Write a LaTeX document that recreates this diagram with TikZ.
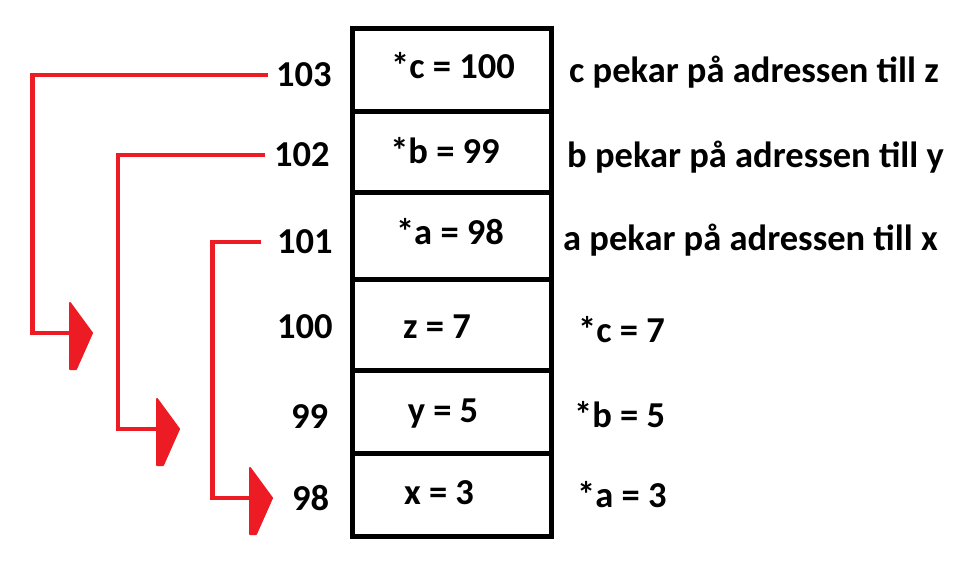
\documentclass[tikz,border=0pt]{standalone}
\usepackage{fontspec}
\setmainfont{Carlito}
\definecolor{pred}{RGB}{237,28,36}
\begin{document}
\begin{tikzpicture}[x=1pt,y=-1pt,
  lbl/.style={font=\bfseries\fontsize{36.5}{44}\selectfont, inner sep=0pt, text=black},
  num/.style={lbl, anchor=base west},
  note/.style={lbl, anchor=base west},
  val/.style={lbl, anchor=base},
  ptr/.style={draw=pred, line width=4.5pt, line join=miter},
  headshape/.style={fill=pred, draw=pred, line width=2pt, line join=round},
  cellbox/.style={draw=black, line width=5pt, line join=miter}]
\useasboundingbox (0,0) rectangle (964,564);
\fill[white] (0,0) rectangle (964,564);

% memory cells
\draw[cellbox] (352.5,29) rectangle (551,536);
\foreach \yy in {112,193,279,370,453}
  \draw[cellbox] (352.5,\yy) -- (551,\yy);

% cell contents
\node[val] (vc) at (453,79)  {*c = 100};
\node[val] (vb) at (445,163.5) {*b = 99};
\node[val] (va) at (450,244) {*a = 98};
\node[val] (vz) at (437,338.5) {z = 7};
\node[val] (vy) at (443,422) {y = 5};
\node[val] (vx) at (439,504.5) {x = 3};

% addresses
\node[num] (n103) at (276,87)  {103};
\node[num] (n102) at (274,167) {102};
\node[num] (n101) at (277,254) {101};
\node[num] (n100) at (277,338) {100};
\node[num] (n99)  at (291,428) {99};
\node[num] (n98)  at (292,510) {98};

% notes
\node[note] (t1) at (569,83)  {c pekar på adressen till z};
\node[note] (t2) at (567,168) {b pekar på adressen till y};
\node[note] (t3) at (563,251) {a pekar på adressen till x};
\node[note] (t4) at (578,342) {*c = 7};
\node[note] (t5) at (574,427) {*b = 5};
\node[note] (t6) at (577,507) {*a = 3};

% arrow tips
\coordinate (e1) at (93,333);
\coordinate (e2) at (180,429);
\coordinate (e3) at (273,498);

\draw[ptr] ([xshift=-8pt]n103.west) -| ([xshift=-60.5pt]e1) -- ([xshift=-20pt]e1);
\draw[ptr] ([xshift=-9pt]n102.west) -| ([xshift=-62pt]e2) -- ([xshift=-20pt]e2);
\draw[ptr] ([xshift=-16pt]n101.west) -| ([xshift=-60.5pt]e3) -- ([xshift=-20pt]e3);

\foreach \e in {e1,e2,e3}
  \filldraw[headshape] ([shift={(-23,-30)}]\e) -- ([shift={(-1,0)}]\e)
     -- ([shift={(-17,36)}]\e) -- ([shift={(-23,36)}]\e) -- cycle;
\end{tikzpicture}
\end{document}
